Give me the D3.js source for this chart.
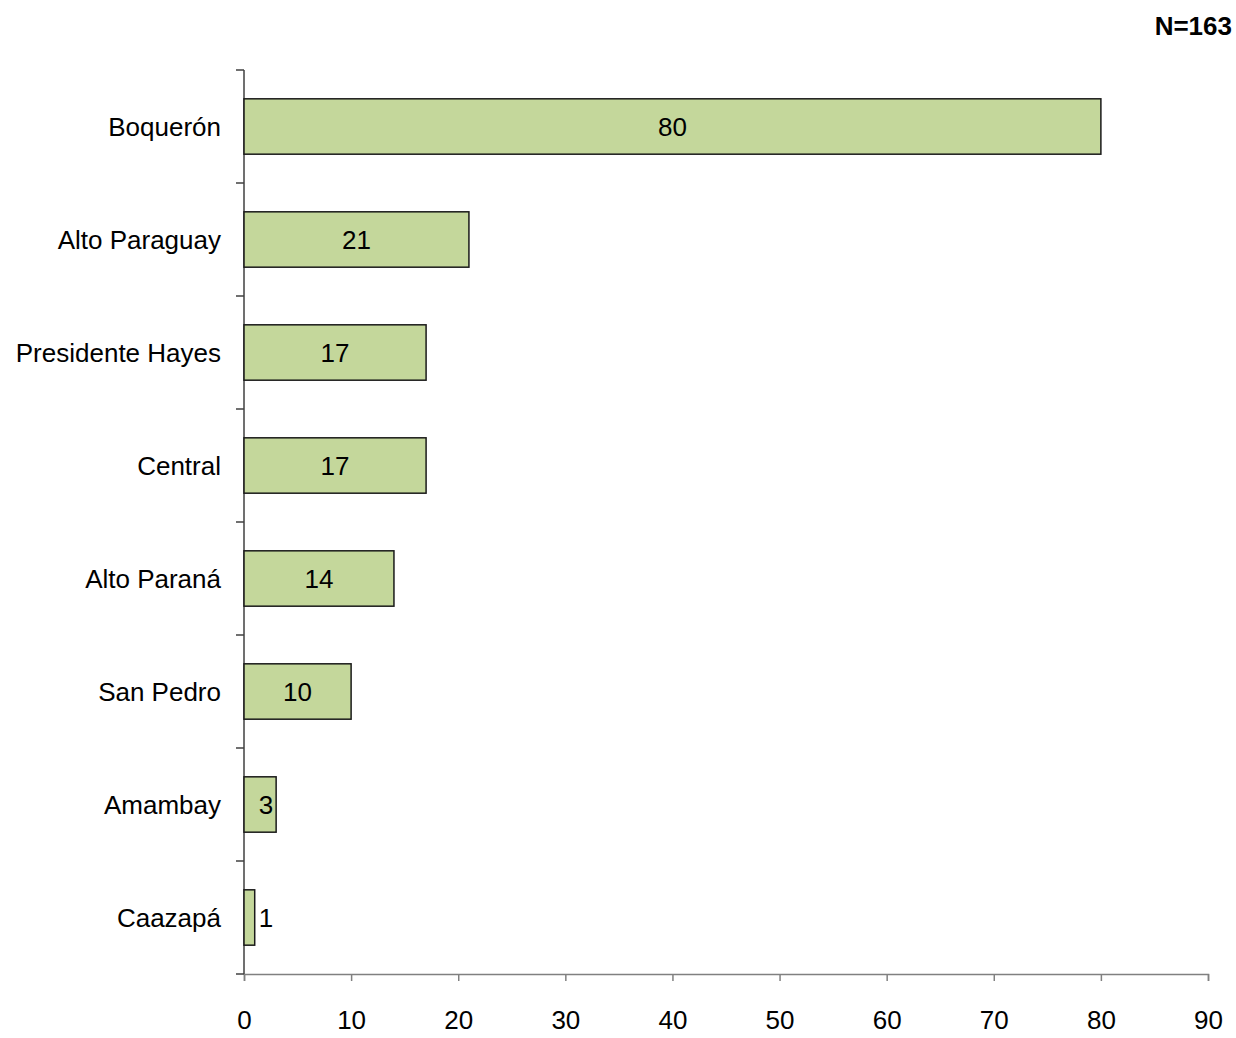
<!DOCTYPE html>
<html><head><meta charset="utf-8">
<script src="https://cdn.jsdelivr.net/npm/d3@7"></script>
<style>body{margin:0;background:#fff}svg{display:block}</style>
</head><body>
<script>
const categories = ["Boquerón","Alto Paraguay","Presidente Hayes","Central","Alto Paraná","San Pedro","Amambay","Caazapá"];
const values = [80,21,17,17,14,10,3,1];
const xTicks = [0,10,20,30,40,50,60,70,80,90];
const note = "N=163";

const W=1236,H=1038;
const svg=d3.select("body").append("svg").attr("width",W).attr("height",H);
const font="'Liberation Sans',Arial,sans-serif";
const x=d3.scaleLinear().domain([0,90]).range([244,1208]);
const y=d3.scaleBand().domain(categories).range([70,974]).paddingInner(0.51).paddingOuter(0.255);
const step=y.step();

// x axis
const xa=svg.append("g").attr("transform","translate(0,974)")
  .call(d3.axisBottom(x).tickValues(xTicks).tickSize(7).tickPadding(30));
xa.select(".domain").attr("stroke","#808080").attr("stroke-width",1.5);
xa.selectAll(".tick line").attr("stroke","#808080").attr("stroke-width",1.5);
xa.selectAll(".tick text").attr("font-family",font).attr("font-size",26).attr("fill","#000");

// y axis line
svg.append("line").attr("x1",x(0)).attr("x2",x(0)).attr("y1",70).attr("y2",974)
  .attr("stroke","#404040").attr("stroke-width",1.5);
// y ticks at band boundaries
const bounds=categories.map(c=>y(c)-step*y.paddingInner()/2).concat([974]);
svg.selectAll(".yt").data(bounds).enter().append("line")
  .attr("x1",x(0)-8).attr("x2",x(0)).attr("y1",d=>d).attr("y2",d=>d)
  .attr("stroke","#404040").attr("stroke-width",1.5);

// category labels
svg.selectAll(".cl").data(categories).enter().append("text")
  .attr("x",221).attr("y",c=>y(c)+y.bandwidth()/2).attr("dy","0.35em")
  .attr("text-anchor","end").attr("font-family",font).attr("font-size",26).attr("fill","#000")
  .text(c=>c);

// bars
svg.selectAll(".bar").data(values).enter().append("rect")
  .attr("x",x(0)).attr("y",(d,i)=>y(categories[i]))
  .attr("width",d=>x(d)-x(0)).attr("height",y.bandwidth())
  .attr("fill","#c4d79b").attr("stroke","#1a1a1a").attr("stroke-width",1.5);

// value labels
svg.selectAll(".vl").data(values).enter().append("text")
  .attr("x",d=>Math.max((x(0)+x(d))/2, x(0)+22)).attr("y",(d,i)=>y(categories[i])+y.bandwidth()/2).attr("dy","0.35em")
  .attr("text-anchor","middle").attr("font-family",font).attr("font-size",26).attr("fill","#000")
  .text(d=>d);

svg.append("text").attr("x",1232).attr("y",26).attr("dy","0.35em").attr("text-anchor","end")
  .attr("font-family",font).attr("font-weight","bold").attr("font-size",26).text(note);
</script>
</body></html>
